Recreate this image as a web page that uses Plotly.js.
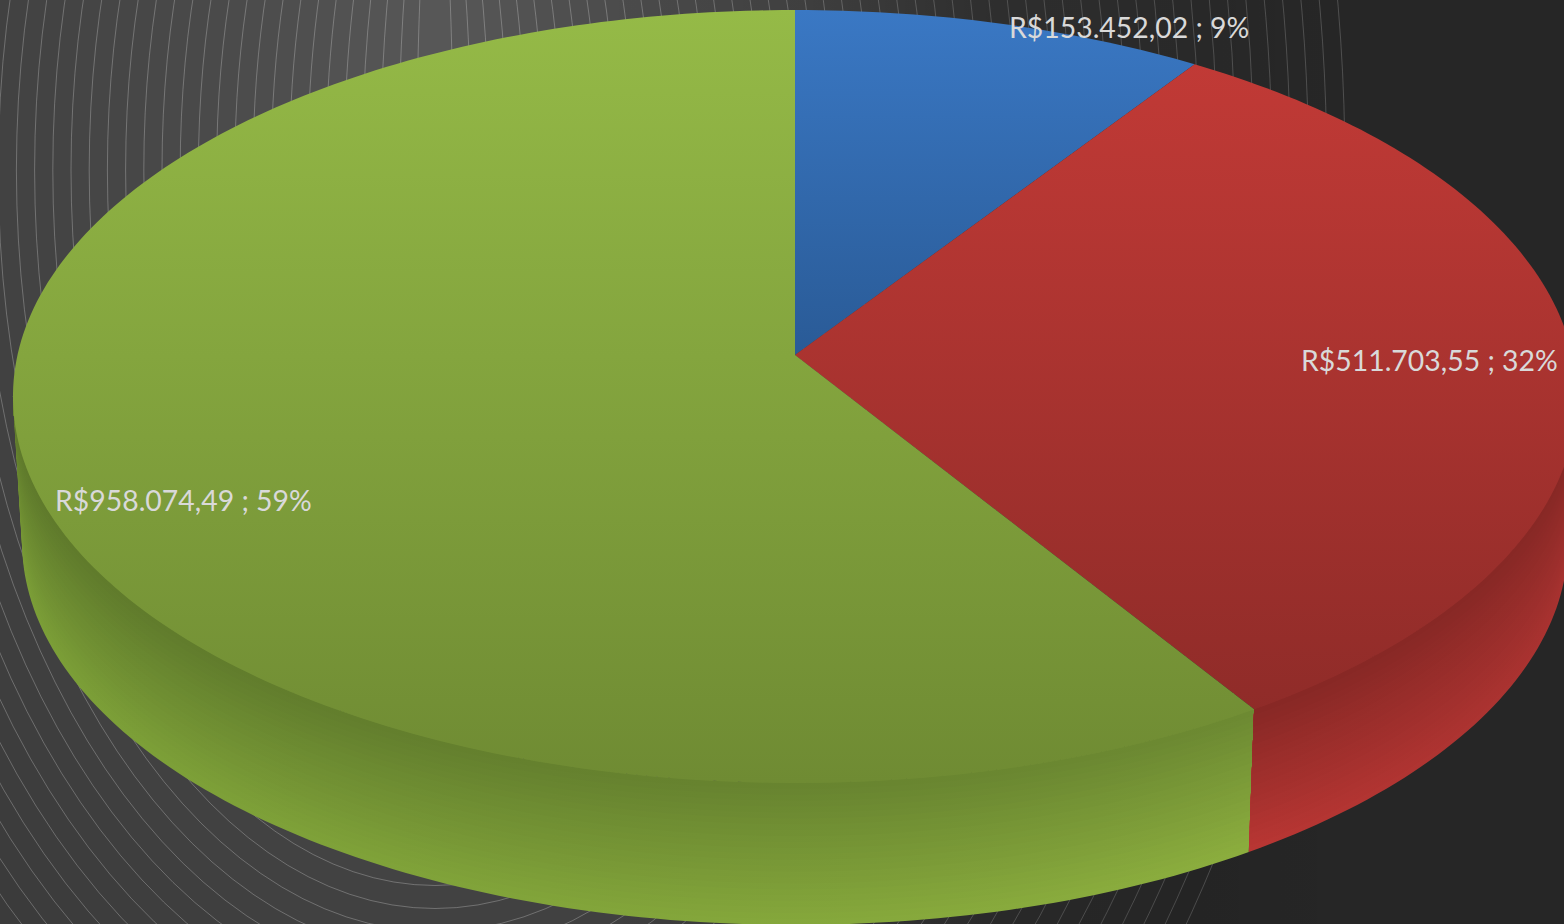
<!DOCTYPE html>
<html><head><meta charset="utf-8">
<style>html,body{margin:0;padding:0;background:#262626;overflow:hidden}#chart{width:1564px;height:924px}</style>
<script src="https://cdn.plot.ly/plotly-3.0.1.min.js"></script>
</head><body><div id="chart"></div>
<script>
// Data
const sliceValues = [153452.02, 511703.55, 958074.49];
const topColorsStart = ['#3a78c4', '#c53b37', '#95ba47'];
const topColorsEnd   = ['#15365e', '#8a2a27', '#6f8b33'];
const labelX = [1129, 1429, 183];
const labelY = [27, 360, 500];

// Projection of the tilted pie
const W = 1564, H = 924;
const CX = 795, KP = 0.1074;
const TOP = {a: 777.5, b: 382, cy: 355};
const BOT = {a: 768.4, b: 378, cy: 501.4};
const GRAD_Y0 = 10, GRAD_Y1 = 783;

function plane(h){return {a:TOP.a+(BOT.a-TOP.a)*h,b:TOP.b+(BOT.b-TOP.b)*h,cy:TOP.cy+(BOT.cy-TOP.cy)*h};}
function pt(deg,p){const t=deg*Math.PI/180,d=1+KP*Math.cos(t);return [CX+p.a*Math.sin(t)/d,p.cy-p.b*Math.cos(t)/d];}
function arc(d0,d1,p){const n=Math.max(2,Math.ceil(Math.abs(d1-d0)));const o=[];for(let i=0;i<=n;i++)o.push(pt(d0+(d1-d0)*i/n,p));return o;}
function hex(c){return [1,3,5].map(i=>parseInt(c.substr(i,2),16));}
function mix(c0,c1,t){const a=hex(c0),b=hex(c1);return 'rgb('+a.map((v,i)=>Math.round(v+(b[i]-v)*t)).join(',')+')';}
function poly(points,extra){return Object.assign({type:'scatter',mode:'none',fill:'toself',hoverinfo:'skip',showlegend:false,
  x:points.map(p=>p[0]),y:points.map(p=>p[1])},extra);}

const total = sliceValues.reduce((a,b)=>a+b,0);
const edges=[0];sliceValues.forEach(v=>edges.push(edges[edges.length-1]+v/total*360));

const traces=[];
// backdrop darkening towards the right
traces.push(poly([[0,0],[W,0],[W,H],[0,H]],{fillgradient:{type:'horizontal',start:0,stop:W,colorscale:[
  [0,'rgba(0,0,0,0)'],[600/W,'rgba(0,0,0,0)'],[800/W,'rgba(0,0,0,0.07)'],[1000/W,'rgba(0,0,0,0.25)'],
  [1200/W,'rgba(0,0,0,0.25)'],[1350/W,'rgba(0,0,0,0.21)'],[1,'rgba(0,0,0,0.21)']]}}));

// side walls (drawn tallest first so that bands leave no seams)
const BANDS=24;
const wallSides=[
  {d1:264,start:0,stop:1250,farTop:'#5e792b',farLow:'#7b9e37',nearTop:'#6c8932',nearLow:'#8cae3e'},
  {d1:96,start:1250,stop:1564,farTop:'#872825',farLow:'#b93633',nearTop:'#872825',nearLow:'#a83230'}
];
wallSides.forEach(w=>{
  for(let j=BANDS;j>=1;j--){
    const t=(j-0.5)/BANDS;
    const pts=arc(edges[2],w.d1,TOP).concat(arc(w.d1,edges[2],plane(j/BANDS)));
    traces.push(poly(pts,{fillgradient:{type:'horizontal',start:w.start,stop:w.stop,
      colorscale:[[0,mix(w.farTop,w.farLow,t)],[1,mix(w.nearTop,w.nearLow,t)]]}}));
  }
});
// top face
sliceValues.forEach((v,i)=>{
  const pts=[[CX,TOP.cy]].concat(arc(edges[i],edges[i+1],TOP));
  traces.push(poly(pts,{fillgradient:{type:'vertical',start:GRAD_Y0,stop:GRAD_Y1,colorscale:[[0,topColorsStart[i]],[1,topColorsEnd[i]]]}}));
});

// labels
function brl(v){const s=v.toFixed(2).split('.');return 'R$'+s[0].replace(/\B(?=(\d{3})+$)/g,'.')+','+s[1];}
const annotations=sliceValues.map((v,i)=>({xref:'x',yref:'y',x:labelX[i],y:labelY[i],xanchor:'center',yanchor:'middle',showarrow:false,
  text:brl(v)+' ; '+Math.round(v/total*100)+'%',font:{family:'Lato, "Open Sans", sans-serif',size:28.4,color:'#d9d9d9'}}));

// backdrop: banded radial glow
const RINGS=50, BCX=435, BCY=170;
const grayStops=[[0,0x58],[0.26,0x4a],[0.48,0x42],[0.62,0x3d],[0.74,0x3a],[1,0x30]];
function gray(t){for(let i=1;i<grayStops.length;i++){if(t<=grayStops[i][0]){const a=grayStops[i-1],b=grayStops[i];const v=Math.round(a[1]+(b[1]-a[1])*(t-a[0])/(b[0]-a[0]));return 'rgb('+v+','+v+','+v+')';}}return '#303030';}
const shapes=[];
for(let i=RINGS;i>=1;i--){
  const rx=18.2*i, ry=i<=23?290+18.5*i:715.5+23*(i-23);
  shapes.push({type:'circle',layer:'below',xref:'x',yref:'y',x0:BCX-rx,x1:BCX+rx,y0:BCY-ry,y1:BCY+ry,
    fillcolor:gray(i/RINGS),line:{color:'rgba(255,255,255,0.36)',width:0.7}});
}

Plotly.newPlot('chart',traces,{
  width:W,height:H,margin:{l:0,r:0,t:0,b:0},showlegend:false,
  paper_bgcolor:'#303030',plot_bgcolor:'#303030',
  xaxis:{range:[0,W],visible:false,fixedrange:true},
  yaxis:{range:[H,0],visible:false,fixedrange:true},
  shapes:shapes,annotations:annotations
},{displayModeBar:false,staticPlot:true});
</script></body></html>
